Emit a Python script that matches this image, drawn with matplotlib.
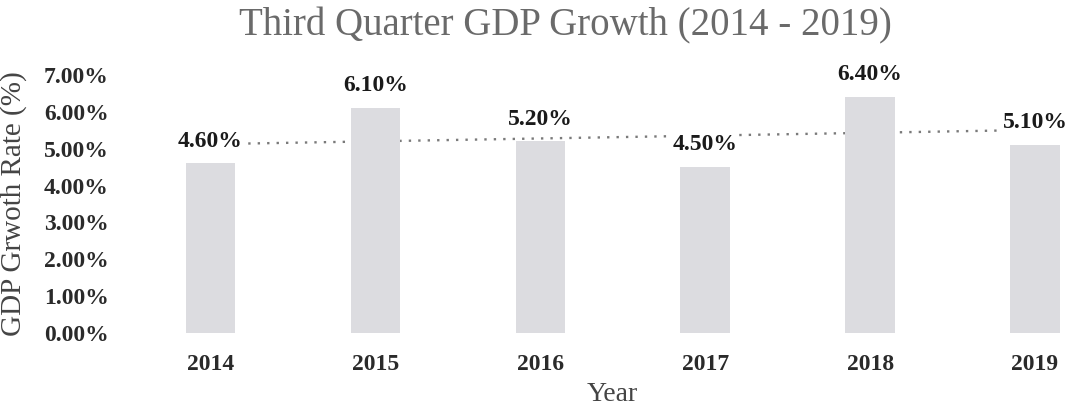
import numpy as np
import matplotlib
matplotlib.use('Agg')
import matplotlib.pyplot as plt

# Third quarter GDP growth, percent
years = ['2014', '2015', '2016', '2017', '2018', '2019']
growth = [4.6, 6.1, 5.2, 4.5, 6.4, 5.1]
y_ticks = [0, 1, 2, 3, 4, 5, 6, 7]

plt.rcParams['font.family'] = ['Liberation Serif', 'DejaVu Serif']

fig = plt.figure(figsize=(10.66, 4.09), dpi=100)
ax = fig.add_axes([128 / 1066, 76 / 409, 938 / 1066, 258 / 409])

x = np.arange(len(years))
bars = ax.bar(x, growth, width=0.3, color='#dcdce0', zorder=2)

# Linear trendline between the first and last year
slope, intercept = np.polyfit(x, growth, 1)
xt = np.array([x[0], x[-1]])
ax.plot(xt, slope * xt + intercept, linestyle=(0, (1, 3)), color='#7a7a7a',
        linewidth=1.7, zorder=1)

# Value labels above the bars
for xi, v in zip(x, growth):
    ax.annotate(f'{v:.2f}%', (xi, v), xytext=(0, 16), textcoords='offset points',
                ha='center', va='center', fontsize=17, fontweight='bold',
                color='#1a1a1a', zorder=3,
                bbox=dict(boxstyle='square,pad=0.05', fc='white', ec='none'),
                annotation_clip=False)

ax.set_xlim(-0.5, (1066 - 210) / 165)
ax.set_ylim(0, 7)
ax.set_xticks(x)
ax.set_xticklabels(years, fontsize=17, fontweight='bold', color='#2a2a2a')
ax.set_yticks(y_ticks)
ax.set_yticklabels([f'{t:.2f}%' for t in y_ticks], fontsize=17, fontweight='bold',
                   color='#2a2a2a')
ax.tick_params(axis='x', length=0, pad=15)
ax.tick_params(axis='y', length=0, pad=14)
for s in ax.spines.values():
    s.set_visible(False)

ax.set_ylabel('GDP Grwoth Rate (%)', fontsize=21, color='#444444')
ax.yaxis.set_label_coords(-101 / 938, 0.5)
ax.set_xlabel('Year', fontsize=20, color='#444444')
ax.xaxis.set_label_coords((612 - 128) / 938, -49 / 258)

fig.text(565 / 1066, 1 - 26 / 409, 'Third Quarter GDP Growth (2014 - 2019)',
         ha='center', va='center', fontsize=28, color='#6a6a6a')

fig.savefig('out.png', dpi=100)
